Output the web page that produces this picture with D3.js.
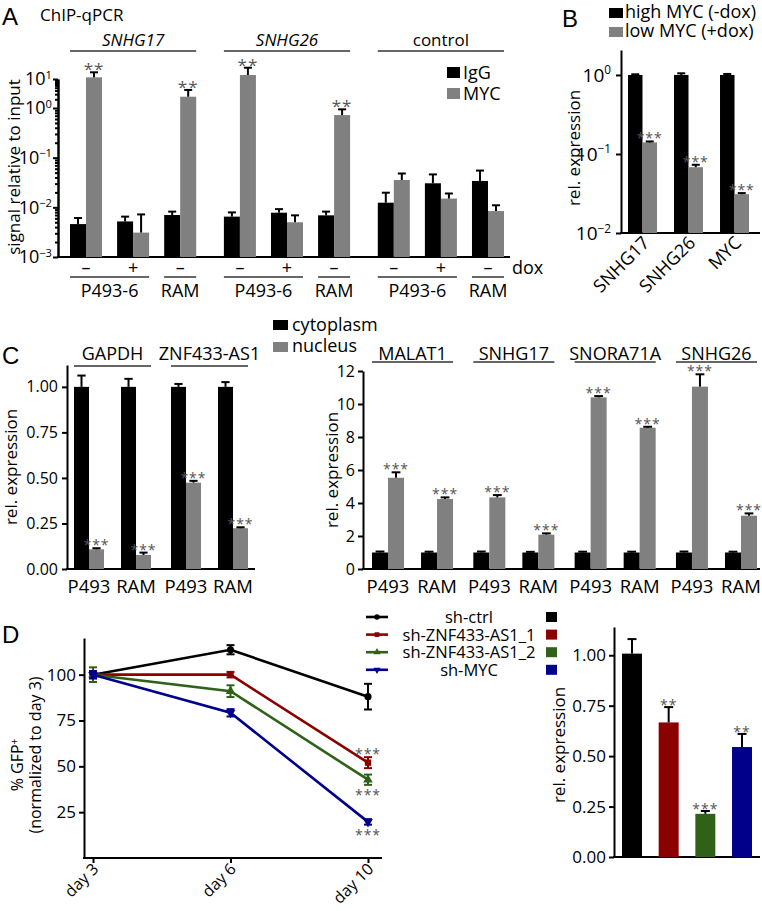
<!DOCTYPE html>
<html>
<head>
<meta charset="utf-8">
<script src="https://cdnjs.cloudflare.com/ajax/libs/d3/7.8.5/d3.min.js"></script>
<style>
  body { margin: 0; background: #fff; }
  text { font-family: 'Open Sans', sans-serif; fill: #000; }
  .letter { font-family: 'Liberation Sans', Arial, sans-serif; font-size: 24px; }
  .stars { fill: #555; letter-spacing: 1px; }
  .axis path, .axis line { stroke: #000; stroke-width: 2; }
</style>
</head>
<body>
<div id="fig"></div>
<script>
// ---------- data ----------
// A: ChIP-qPCR
var chipGenes = ["SNHG17", "SNHG26", "control"];
var chipDox = ["–", "+", "–"];
var chipCells = [["P493-6", [0, 1]], ["RAM", [2]]];
var chipIgG = [[4.6e-3, 5.2e-3, 7.0e-3], [6.5e-3, 7.8e-3, 6.9e-3], [1.24e-2, 3.05e-2, 3.4e-2]];
var chipIgGErr = [[1.5e-3, 1.3e-3, 1.2e-3], [1.4e-3, 1.4e-3, 1.3e-3], [0.73e-2, 1.55e-2, 2.1e-2]];
var chipMYC = [[11.4, 3.1e-3, 2.45], [13.7, 5.0e-3, 0.72], [3.55e-2, 1.5e-2, 8.4e-3]];
var chipMYCErr = [[5.6, 4.1e-3, 1.75], [10.8, 1.9e-3, 0.22], [1.25e-2, 0.4e-2, 2.6e-3]];
var chipStars = [["**", "", "**"], ["**", "", "**"], ["", "", ""]];
var chipTicks = [1e-3, 1e-2, 1e-1, 1, 10];

// B: dox knockdown
var bGenes = ["SNHG17", "SNHG26", "MYC"];
var bHigh = [1.0, 1.0, 1.0];
var bHighErr = [0.02, 0.05, 0.03];
var bLow = [0.14, 0.068, 0.031];
var bLowErr = [0.004, 0.005, 0.001];
var bTicks = [0.01, 0.1, 1];

// C: fractionation
var cCells = ["P493", "RAM"];
var cLeftGenes = ["GAPDH", "ZNF433-AS1"];
var cLeftCyto = [[1, 1], [1, 1]];
var cLeftCytoErr = [[0.062, 0.044], [0.016, 0.026]];
var cLeftNuc = [[0.108, 0.077], [0.474, 0.224]];
var cLeftNucErr = [[0.006, 0.013], [0.01, 0.005]];
var cLeftTicks = [0, 0.25, 0.5, 0.75, 1];
var cRightGenes = ["MALAT1", "SNHG17", "SNORA71A", "SNHG26"];
var cRightCyto = [[1, 1], [1, 1], [1, 1], [1, 1]];
var cRightCytoErr = [[0.06, 0.05], [0.06, 0.04], [0.05, 0.05], [0.06, 0.05]];
var cRightNuc = [[5.53, 4.24], [4.34, 2.08], [10.4, 8.56], [11.05, 3.23]];
var cRightNucErr = [[0.33, 0.1], [0.14, 0.08], [0.08, 0.06], [0.75, 0.14]];
var cRightTicks = [0, 2, 4, 6, 8, 10, 12];

// D: GFP competition + knockdown
var days = ["day 3", "day 6", "day 10"];
var shNames = ["sh-ctrl", "sh-ZNF433-AS1_1", "sh-ZNF433-AS1_2", "sh-MYC"];
var shColors = ["#000000", "#8b0000", "#2f6118", "#00008b"];
var shSymbols = [d3.symbolCircle, d3.symbolSquare, d3.symbolTriangle, "down"];
var gfp = [[100, 113.6, 88], [100, 100, 52], [100, 91, 42.7], [100, 79.2, 19.7]];
var gfpErr = [[2, 2.5, 7], [1.2, 1.5, 3], [4, 3.2, 2.8], [2, 2, 1.5]];
var gfpStars = ["", "above", "below", "below"];
var gfpTicks = [25, 50, 75, 100];
var kd = [1.008, 0.667, 0.214, 0.545];
var kdErr = [0.072, 0.076, 0.014, 0.065];
var kdStars = ["", "**", "***", "**"];
var kdTicks = [0, 0.25, 0.5, 0.75, 1];

// ---------- helpers ----------
var width = 762, height = 911;
var grey = "#808080";

var svg = d3.select("#fig").append("svg")
  .attr("width", width)
  .attr("height", height);

function errBar(g, cx, y0, y1, cap) {
  g.append("line").attr("x1", cx).attr("x2", cx).attr("y1", y0).attr("y2", y1)
    .attr("stroke", "#000").attr("stroke-width", 2);
  g.append("line").attr("x1", cx - cap / 2).attr("x2", cx + cap / 2).attr("y1", y1).attr("y2", y1)
    .attr("stroke", "#000").attr("stroke-width", 2);
}

function stars(g, cx, y, s, size) {
  if (!s) return;
  g.append("text").attr("class", "stars")
    .attr("x", cx).attr("y", y)
    .attr("text-anchor", "middle")
    .style("font-size", size + "px")
    .text(s);
}

function powTicks(sel) {
  sel.selectAll(".tick text").each(function(d) {
    var e = Math.round(Math.log10(d));
    var t = d3.select(this).text("10");
    t.append("tspan").attr("dy", "-0.6em").style("font-size", "0.62em")
      .text(e < 0 ? "−" + (-e) : e);
  });
}

function yTitle(g, x, y, txt, size) {
  g.append("text")
    .attr("transform", "translate(" + x + "," + y + ") rotate(-90)")
    .attr("text-anchor", "middle")
    .style("font-size", size + "px")
    .text(txt);
}

function hline(g, x1, x2, y) {
  g.append("line").attr("x1", x1).attr("x2", x2).attr("y1", y).attr("y2", y)
    .attr("stroke", "#000").attr("stroke-width", 2);
}

function thinline(g, x1, x2, y) {
  g.append("line").attr("x1", x1).attr("x2", x2).attr("y1", y).attr("y2", y)
    .attr("stroke", "#333").attr("stroke-width", 1.3);
}

// paired bars (black/grey) inside gene groups
function pairedBars(g, genes, cells, black, blackErr, gray, grayErr, xG, xC, y, starSize) {
  var rows = [];
  genes.forEach(function(gene, gi) {
    cells.forEach(function(cell, ci) {
      rows.push({ gene: gene, ci: ci, k: 0, v: black[gi][ci], e: blackErr[gi][ci] });
      rows.push({ gene: gene, ci: ci, k: 1, v: gray[gi][ci], e: grayErr[gi][ci] });
    });
  });
  var bw = xC.bandwidth() / 2;
  var y0 = y(y.domain()[0]);
  g.selectAll("rect.bar").data(rows).join("rect")
    .attr("class", "bar")
    .attr("x", function(d) { return xG(d.gene) + xC(d.ci) + d.k * bw; })
    .attr("y", function(d) { return y(d.v); })
    .attr("width", bw)
    .attr("height", function(d) { return y0 - y(d.v); })
    .attr("fill", function(d) { return d.k ? grey : "#000"; });
  rows.forEach(function(d) {
    var cx = xG(d.gene) + xC(d.ci) + d.k * bw + bw / 2;
    errBar(g, cx, y(d.v), y(d.v + d.e), bw * 0.55);
    if (d.k === 1 && starSize) stars(g, cx, y(d.v + d.e) + 2, "***", starSize);
  });
}

// ---------- A ----------
var gA = svg.append("g");
gA.append("text").attr("class", "letter").attr("x", 2).attr("y", 25).text("A");
gA.append("text").attr("x", 40).attr("y", 21).style("font-size", "17px").text("ChIP-qPCR");

var yA = d3.scaleLog().domain([1e-3, 1, 10]).range([257, 108, 79]);
var xA = d3.scaleBand().domain(chipGenes).range([70, 504]).paddingInner(0.18);
var xAc = d3.scaleBand().domain(d3.range(3)).range([0, xA.bandwidth()]).paddingInner(0.32);
var xAs = d3.scaleBand().domain(["IgG", "MYC"]).range([0, xAc.bandwidth()]);

var minorA = [];
[-3, -2, -1, 0].forEach(function(e) {
  for (var k = 2; k < 10; k++) minorA.push(k * Math.pow(10, e));
});
gA.append("g").attr("class", "axis").attr("transform", "translate(58,0)")
  .call(d3.axisLeft(yA).tickValues(minorA).tickSize(3).tickFormat("").tickSizeOuter(0))
  .selectAll("line").attr("stroke-width", 1.2);
gA.append("g").attr("class", "axis").attr("transform", "translate(58,0)")
  .call(d3.axisLeft(yA).tickValues(chipTicks).tickSize(5).tickPadding(1).tickSizeOuter(0))
  .call(powTicks)
  .selectAll(".tick text").style("font-size", "18px").attr("font-family", "'Open Sans', sans-serif");
hline(gA, 57, 510, yA(1e-3));
yTitle(gA, 20, 167, "signal relative to input", 17);

var rowsA = [];
chipGenes.forEach(function(gene, gi) {
  d3.range(3).forEach(function(ci) {
    rowsA.push({ gene: gene, ci: ci, s: "IgG", v: chipIgG[gi][ci], e: chipIgGErr[gi][ci], star: "" });
    rowsA.push({ gene: gene, ci: ci, s: "MYC", v: chipMYC[gi][ci], e: chipMYCErr[gi][ci], star: chipStars[gi][ci] });
  });
});
gA.selectAll("rect.bar").data(rowsA).join("rect")
  .attr("class", "bar")
  .attr("x", function(d) { return xA(d.gene) + xAc(d.ci) + xAs(d.s); })
  .attr("y", function(d) { return yA(d.v); })
  .attr("width", xAs.bandwidth())
  .attr("height", function(d) { return yA(1e-3) - yA(d.v); })
  .attr("fill", function(d) { return d.s === "IgG" ? "#000" : grey; });
rowsA.forEach(function(d) {
  var cx = xA(d.gene) + xAc(d.ci) + xAs(d.s) + xAs.bandwidth() / 2;
  errBar(gA, cx, yA(d.v), yA(d.v + d.e), 8);
  stars(gA, cx, yA(d.v + d.e) + 3, d.star, 17);
});

chipGenes.forEach(function(gene, gi) {
  var x0 = xA(gene);
  gA.append("text").attr("x", x0 + xA.bandwidth() / 2).attr("y", 46)
    .attr("text-anchor", "middle").style("font-size", "17px")
    .style("font-style", gene === "control" ? "normal" : "italic").text(gene);
  thinline(gA, x0, x0 + xA.bandwidth(), 51);
  chipDox.forEach(function(s, ci) {
    gA.append("text").attr("x", x0 + xAc(ci) + xAc.bandwidth() / 2).attr("y", 274)
      .attr("text-anchor", "middle").style("font-size", "18px").text(s);
  });
  chipCells.forEach(function(c) {
    var a = x0 + xAc(c[1][0]), b = x0 + xAc(c[1][c[1].length - 1]) + xAc.bandwidth();
    thinline(gA, a, b, 277);
    gA.append("text").attr("x", (a + b) / 2).attr("y", 297)
      .attr("text-anchor", "middle").style("font-size", "18px").text(c[0]);
  });
});
gA.append("text").attr("x", 512).attr("y", 274).style("font-size", "18px").text("dox");

[["IgG", "#000"], ["MYC", grey]].forEach(function(l, i) {
  gA.append("rect").attr("x", 447).attr("y", 67 + i * 21).attr("width", 13).attr("height", 11).attr("fill", l[1]);
  gA.append("text").attr("x", 463).attr("y", 79 + i * 21).style("font-size", "18px").text(l[0]);
});

// ---------- B ----------
var gB = svg.append("g");
gB.append("text").attr("class", "letter").attr("x", 562).attr("y", 27).text("B");
[["high MYC (-dox)", "#000"], ["low MYC (+dox)", grey]].forEach(function(l, i) {
  gB.append("rect").attr("x", 609).attr("y", 8 + i * 19).attr("width", 14).attr("height", 10).attr("fill", l[1]);
  gB.append("text").attr("x", 625).attr("y", 18 + i * 19).style("font-size", "18px").text(l[0]);
});
var yB = d3.scaleLog().domain([0.01, 2.07]).range([233, 50]);
var xB = d3.scaleBand().domain(bGenes).range([628, 749]).paddingInner(0.37);
gB.append("g").attr("class", "axis").attr("transform", "translate(621,0)")
  .call(d3.axisLeft(yB).tickValues(bTicks).tickSize(5).tickPadding(5).tickSizeOuter(0))
  .call(powTicks)
  .selectAll(".tick text").style("font-size", "19px").attr("font-family", "'Open Sans', sans-serif");
hline(gB, 620, 760, yB(0.01));
yTitle(gB, 580, 148, "rel. expression", 17);
var rowsB = [];
bGenes.forEach(function(gene, i) {
  rowsB.push({ gene: gene, k: 0, v: bHigh[i], e: bHighErr[i] });
  rowsB.push({ gene: gene, k: 1, v: bLow[i], e: bLowErr[i] });
});
var bwB = xB.bandwidth() / 2;
gB.selectAll("rect.bar").data(rowsB).join("rect")
  .attr("class", "bar")
  .attr("x", function(d) { return xB(d.gene) + d.k * bwB; })
  .attr("y", function(d) { return yB(d.v); })
  .attr("width", bwB)
  .attr("height", function(d) { return yB(0.01) - yB(d.v); })
  .attr("fill", function(d) { return d.k ? grey : "#000"; });
rowsB.forEach(function(d) {
  var cx = xB(d.gene) + d.k * bwB + bwB / 2;
  errBar(gB, cx, yB(d.v), yB(d.v + d.e), 8);
  if (d.k) stars(gB, cx, yB(d.v + d.e) + 2, "***", 14);
});
bGenes.forEach(function(gene) {
  var x = xB(gene) + xB.bandwidth() / 2 + 8;
  gB.append("text").attr("transform", "translate(" + x + ",244) rotate(-45)")
    .attr("text-anchor", "end").style("font-size", "18px").text(gene);
});

// ---------- C ----------
var gC = svg.append("g");
gC.append("text").attr("class", "letter").attr("x", 2).attr("y", 364).text("C");

// left
var yCL = d3.scaleLinear().domain([0, 1.12]).range([569, 365]);
var xCL = d3.scaleBand().domain(cLeftGenes).range([74, 248]).paddingInner(0.206);
var xCLc = d3.scaleBand().domain(d3.range(2)).range([0, xCL.bandwidth()]).paddingInner(0.362);
gC.append("g").attr("class", "axis").attr("transform", "translate(67,0)")
  .call(d3.axisLeft(yCL).tickValues(cLeftTicks).tickFormat(d3.format(".2f")).tickSize(5).tickPadding(4).tickSizeOuter(0))
  .selectAll(".tick text").style("font-size", "16px").attr("font-family", "'Open Sans', sans-serif");
hline(gC, 66, 255, yCL(0));
yTitle(gC, 17, 467, "rel. expression", 17);
var gCL = gC.append("g");
pairedBars(gCL, cLeftGenes, cCells, cLeftCyto, cLeftCytoErr, cLeftNuc, cLeftNucErr, xCL, xCLc, yCL, 14);

// right
var yCR = d3.scaleLinear().domain([0, 12]).range([569, 371]);
var xCR = d3.scaleBand().domain(cRightGenes).range([372, 757]).paddingInner(0.2);
var xCRc = d3.scaleBand().domain(d3.range(2)).range([0, xCR.bandwidth()]).paddingInner(0.347);
gC.append("g").attr("class", "axis").attr("transform", "translate(363,0)")
  .call(d3.axisLeft(yCR).tickValues(cRightTicks).tickSize(5).tickPadding(3).tickSizeOuter(0))
  .selectAll(".tick text").style("font-size", "16px").attr("font-family", "'Open Sans', sans-serif");
hline(gC, 362, 760, yCR(0));
yTitle(gC, 338, 470, "rel. expression", 17);
var gCR = gC.append("g");
pairedBars(gCR, cRightGenes, cCells, cRightCyto, cRightCytoErr, cRightNuc, cRightNucErr, xCR, xCRc, yCR, 14);

[[cLeftGenes, xCL, xCLc, 366], [cRightGenes, xCR, xCRc, 362]].forEach(function(p) {
  p[0].forEach(function(gene) {
    var x0 = p[1](gene);
    gC.append("text").attr("x", x0 + p[1].bandwidth() / 2).attr("y", 360)
      .attr("text-anchor", "middle").style("font-size", "18px").text(gene);
    thinline(gC, x0, x0 + p[1].bandwidth(), p[3]);
    cCells.forEach(function(cell, ci) {
      gC.append("text").attr("x", x0 + p[2](ci) + p[2].bandwidth() / 2).attr("y", 593)
        .attr("text-anchor", "middle").style("font-size", "18.5px").text(cell);
    });
  });
});
[["cytoplasm", "#000"], ["nucleus", grey]].forEach(function(l, i) {
  gC.append("rect").attr("x", 273).attr("y", 320 + i * 22).attr("width", 15).attr("height", 10).attr("fill", l[1]);
  gC.append("text").attr("x", 292).attr("y", 331 + i * 21).style("font-size", "18px").text(l[0]);
});

// ---------- D ----------
var gD = svg.append("g");
gD.append("text").attr("class", "letter").attr("x", 2).attr("y", 643).text("D");

var yD = d3.scaleLinear().domain([0, 120]).range([858, 638]);
var xD = d3.scalePoint().domain(days).range([93, 368]);
gD.append("g").attr("class", "axis").attr("transform", "translate(84,0)")
  .call(d3.axisLeft(yD).tickValues(gfpTicks).tickSize(5).tickPadding(3).tickSizeOuter(0))
  .selectAll(".tick text").style("font-size", "17px").attr("font-family", "'Open Sans', sans-serif");
var xAxD = gD.append("g").attr("class", "axis").attr("transform", "translate(0,858)")
  .call(d3.axisBottom(xD).tickSize(5).tickSizeOuter(0));
xAxD.select(".domain").remove();
xAxD.selectAll(".tick text")
  .style("font-size", "16px").attr("font-family", "'Open Sans', sans-serif")
  .attr("text-anchor", "end").attr("dy", null).attr("y", 0)
  .attr("transform", "translate(6,12) rotate(-45)");
hline(gD, 83, 382, 858);

var gy = gD.append("text")
  .attr("transform", "translate(23,765) rotate(-90)")
  .attr("text-anchor", "middle").style("font-size", "16px");
gy.append("tspan").text("% GFP");
gy.append("tspan").attr("dy", "-0.5em").style("font-size", "10px").text("+");
yTitle(gD, 41, 755, "(normalized to day 3)", 16);

function symbolPath(s, size) {
  if (s === "down") return d3.symbol(d3.symbolTriangle, size)();
  return d3.symbol(s, size)();
}

var lineD = d3.line()
  .x(function(d, i) { return xD(days[i]); })
  .y(function(d) { return yD(d); });

shNames.forEach(function(name, si) {
  var col = shColors[si];
  var g = gD.append("g");
  g.append("path").datum(gfp[si]).attr("d", lineD)
    .attr("fill", "none").attr("stroke", col).attr("stroke-width", 2.6);
  gfp[si].forEach(function(v, i) {
    var x = xD(days[i]), e = gfpErr[si][i];
    g.append("line").attr("x1", x).attr("x2", x).attr("y1", yD(v - e)).attr("y2", yD(v + e))
      .attr("stroke", col).attr("stroke-width", 2);
    [v - e, v + e].forEach(function(w) {
      g.append("line").attr("x1", x - 4).attr("x2", x + 4).attr("y1", yD(w)).attr("y2", yD(w))
        .attr("stroke", col).attr("stroke-width", 2);
    });
    g.append("path").attr("d", symbolPath(shSymbols[si], 40))
      .attr("transform", "translate(" + x + "," + yD(v) + ")" + (shSymbols[si] === "down" ? " rotate(180)" : ""))
      .attr("fill", col);
  });
  var last = gfp[si].length - 1, lv = gfp[si][last], le = gfpErr[si][last];
  if (gfpStars[si] === "above") stars(gD, xD(days[last]), yD(lv + le) - 6 + 8, "***", 14);
  if (gfpStars[si] === "below") stars(gD, xD(days[last]), yD(lv - le) + 7 + 8, "***", 14);

  // legend row
  var ly = 617 + si * 17.6;
  gD.append("line").attr("x1", 366).attr("x2", 388).attr("y1", ly).attr("y2", ly)
    .attr("stroke", col).attr("stroke-width", 2.6);
  gD.append("path").attr("d", symbolPath(shSymbols[si], 22))
    .attr("transform", "translate(377," + ly + ")" + (shSymbols[si] === "down" ? " rotate(180)" : ""))
    .attr("fill", col);
  gD.append("text").attr("x", 469).attr("y", ly + 6)
    .attr("text-anchor", "middle").style("font-size", "16.5px").text(name);
  gD.append("rect").attr("x", 546).attr("y", ly - 5).attr("width", 11).attr("height", 10).attr("fill", col);
});

// D right: knockdown bars
var yK = d3.scaleLinear().domain([0, 1.14]).range([857, 627]);
var xK = d3.scaleBand().domain(shNames).range([614, 760]).paddingInner(0.455).paddingOuter(0.218);
gD.append("g").attr("class", "axis").attr("transform", "translate(614,0)")
  .call(d3.axisLeft(yK).tickValues(kdTicks).tickFormat(d3.format(".2f")).tickSize(5).tickPadding(3).tickSizeOuter(0))
  .selectAll(".tick text").style("font-size", "17px").attr("font-family", "'Open Sans', sans-serif");
hline(gD, 613, 760, yK(0));
yTitle(gD, 565, 745, "rel. expression", 17);
gD.selectAll("rect.kd").data(kd).join("rect")
  .attr("class", "kd")
  .attr("x", function(d, i) { return xK(shNames[i]); })
  .attr("y", function(d) { return yK(d); })
  .attr("width", xK.bandwidth())
  .attr("height", function(d) { return yK(0) - yK(d); })
  .attr("fill", function(d, i) { return shColors[i]; });
kd.forEach(function(v, i) {
  var cx = xK(shNames[i]) + xK.bandwidth() / 2;
  errBar(gD, cx, yK(v), yK(v + kdErr[i]), 9);
  stars(gD, cx, yK(v + kdErr[i]) + 3, kdStars[i], 14);
});
</script>
</body>
</html>
